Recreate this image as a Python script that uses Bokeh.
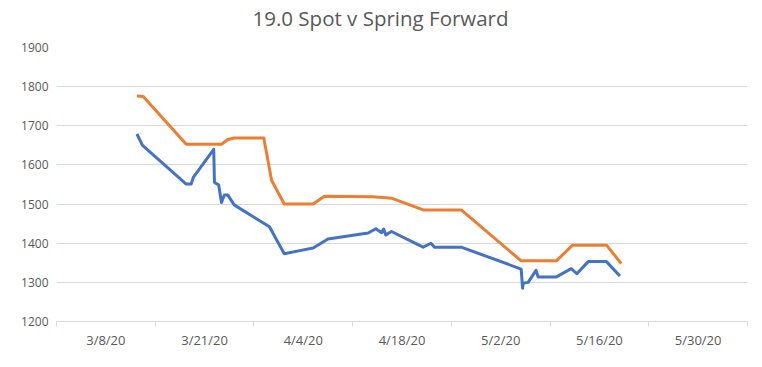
from bokeh.plotting import figure
from bokeh.models import FixedTicker, Range1d, Title
from bokeh.embed import file_html
from bokeh.resources import INLINE

# Category (day) index along the x axis; groups of 14 days per label
spot_day = [11.4, 12.2, 18.4, 19.1, 19.4, 22.3, 22.4, 23.0, 23.4, 23.8, 24.3, 25.2,
            30.2, 32.3, 34.5, 36.4, 38.5, 44.2, 45.3, 46.1, 46.4, 46.7, 47.5, 52.0,
            53.1, 53.6, 57.4, 65.9, 66.1, 66.2, 66.9, 68.0, 68.3, 70.9, 73.0, 73.8,
            75.4, 78.0, 79.9]
spot_val = [1679, 1650, 1551, 1551, 1568, 1640, 1555, 1549, 1504, 1523, 1523, 1498,
            1442, 1373, 1381, 1388, 1411, 1426, 1437, 1427, 1436, 1421, 1430, 1390,
            1400, 1390, 1390, 1334, 1285, 1298, 1300, 1331, 1314, 1314, 1335, 1322,
            1353, 1353, 1316]

fwd_day = [11.4, 12.3, 18.4, 23.4, 24.3, 25.2, 29.4, 30.5, 32.3, 36.4, 38.0, 44.9,
           47.5, 52.0, 57.4, 65.9, 70.9, 73.2, 78.0, 80.1]
fwd_val = [1776, 1775, 1653, 1653, 1665, 1669, 1669, 1561, 1500, 1500, 1520, 1519,
           1515, 1485, 1485, 1355, 1355, 1395, 1395, 1348]

title_text = "19.0 Spot v Spring Forward"
x_labels = ["3/8/20", "3/21/20", "4/4/20", "4/18/20", "5/2/20", "5/16/20", "5/30/20"]
group_size = 14
y_ticks = [1200, 1300, 1400, 1500, 1600, 1700, 1800, 1900]

n_groups = len(x_labels)
x_end = n_groups * group_size

p = figure(width=753, height=358, output_backend="svg", toolbar_location=None,
           x_range=Range1d(0, x_end), y_range=Range1d(1200, 1900),
           min_border_left=56, min_border_right=6, min_border_top=46, min_border_bottom=37)

p.title.text = title_text
p.title.align = "left"
p.title.text_font = "Open Sans"
p.title.text_font_size = "20.5px"
p.title.text_font_style = "normal"
p.title.text_color = "#595959"
p.title.offset = 196
p.title.standoff = 2

# empty spacer between title and plot area, lifting the title
p.add_layout(Title(text=" ", text_font_size="1px", standoff=12), "above")

p.outline_line_color = None
p.background_fill_color = "white"
p.border_fill_color = "white"

# grid
p.xgrid.grid_line_color = None
p.ygrid.grid_line_color = "#d9d9d9"
p.ygrid.grid_line_width = 1

# y axis
p.yaxis.ticker = FixedTicker(ticks=y_ticks)
p.yaxis.axis_line_color = None
p.yaxis.major_tick_line_color = None
p.yaxis.minor_tick_line_color = None
p.yaxis.major_tick_out = 0
p.yaxis.major_tick_in = 0
p.yaxis.major_label_standoff = 8
p.yaxis.major_label_text_font = "Open Sans"
p.yaxis.major_label_text_font_size = "12px"
p.yaxis.major_label_text_color = "#595959"

# x axis: labels centered in groups, tick marks at group boundaries
centers = [i * group_size + group_size / 2 for i in range(n_groups)]
bounds = [i * group_size for i in range(n_groups + 1)]
p.xaxis.ticker = FixedTicker(ticks=centers, minor_ticks=bounds)
p.xaxis.major_label_overrides = {c: lab for c, lab in zip(centers, x_labels)}
p.xaxis.axis_line_color = "#d9d9d9"
p.xaxis.major_tick_line_color = None
p.xaxis.major_tick_out = 0
p.xaxis.major_tick_in = 0
p.xaxis.minor_tick_line_color = "#d9d9d9"
p.xaxis.minor_tick_out = 5
p.xaxis.minor_tick_in = 0
p.xaxis.major_label_standoff = 4
p.xaxis.major_label_text_font = "Open Sans"
p.xaxis.major_label_text_font_size = "13px"
p.xaxis.major_label_text_color = "#595959"

p.line(fwd_day, fwd_val, line_color="#ED7D31", line_width=3, line_join="round")
p.line(spot_day, spot_val, line_color="#4472C4", line_width=3, line_join="round")

open("out.html", "w").write(file_html(p, INLINE))
